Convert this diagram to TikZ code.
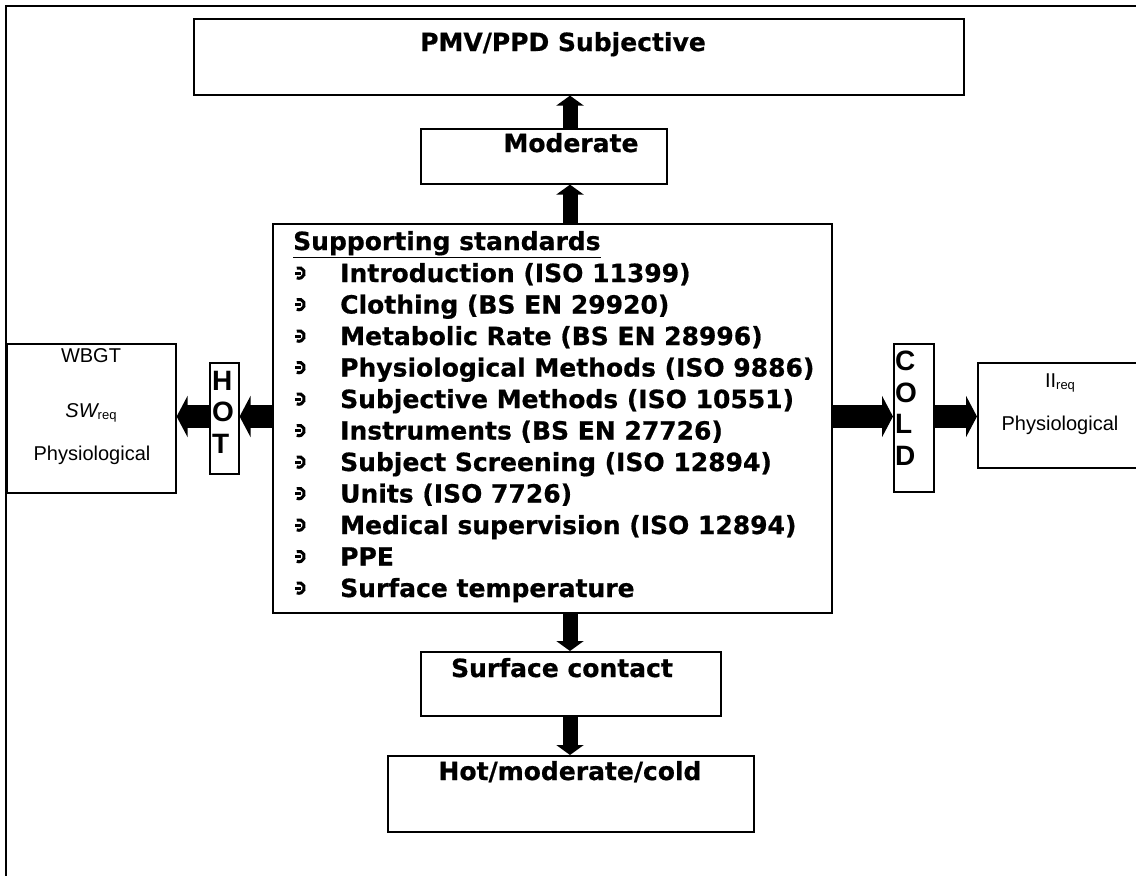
\documentclass[tikz,border=0pt]{standalone}
\usepackage{fontspec}
\setmainfont{DejaVu Sans}
\newfontfamily\heavyfont{DejaVu Sans Bold}[FakeBold=0.7]
\newfontfamily\arialfont{Liberation Sans}
\newfontfamily\arialbold{Liberation Sans Bold}
\usetikzlibrary{arrows.meta}
\begin{document}
\begin{tikzpicture}[x=1pt,y=-1pt,
  frame/.style={draw=black, line width=1.6pt, inner sep=0pt, anchor=north west},
  std/.style={font=\heavyfont\fontsize{25}{31}\selectfont, inner sep=0pt},
  sans/.style={font=\arialfont\fontsize{20}{24}\selectfont, inner sep=0pt, anchor=base},
  letter/.style={font=\arialbold\fontsize{28}{32}\selectfont, inner sep=0pt, anchor=base west},
  varrow/.style={line width=15pt, -{Triangle[width=27pt,length=10pt]}},
  harrow/.style={line width=23pt, -{Triangle[width=41pt,length=11pt]}},
  bulletmark/.pic={
    \draw[line width=3pt] (0,0) ++(-115:5.3) arc[start angle=-115,end angle=115,radius=5.3];
    \draw[line width=3pt] (-4,0) -- (2.2,0);
  }]
\useasboundingbox (0,0) rectangle (1136,876);
\clip (0,0) rectangle (1136,876);
\fill[white] (0,0) rectangle (1136,876);

% outer frame (open on the right and at the bottom)
\draw[line width=1.8pt] (6,876) -- (6,6) -- (1136,6);

% boxes
\node[frame, minimum width=770pt, minimum height=76pt] (pmv) at (193,18) {};
\node[frame, minimum width=246pt, minimum height=55pt] (mod) at (420,128) {};
\node[frame, minimum width=559pt, minimum height=389pt] (sup) at (272,223) {};
\node[frame, minimum width=300pt, minimum height=64pt] (surf) at (420,651) {};
\node[frame, minimum width=366pt, minimum height=76pt] (hmc) at (387,755) {};
\node[frame, minimum width=169pt, minimum height=149pt] (left) at (6,343) {};
\node[frame, minimum width=29pt, minimum height=111pt] (hot) at (209,362) {};
\node[frame, minimum width=40pt, minimum height=148pt] (cold) at (893,343) {};
\node[frame, minimum width=170pt, minimum height=105pt] (right) at (977,362) {};

% box texts
\node[std, anchor=base] (pmvt) at (563,51) {PMV/PPD Subjective};
\node[std, anchor=base] (modt) at (571,152) {Moderate};
\node[std, anchor=base] (surft) at (562,677) {Surface contact};
\node[std, anchor=base] (hmct) at (570,780) {Hot/moderate/cold};

\node[std, anchor=base west] (supt) at (293,250) {\underline{Supporting standards}};
\foreach \t [count=\i from 0] in {Introduction (ISO 11399),Clothing (BS EN 29920),
  Metabolic Rate (BS EN 28996),Physiological Methods (ISO 9886),
  Subjective Methods (ISO 10551),Instruments (BS EN 27726),
  Subject Screening (ISO 12894),Units (ISO 7726),
  Medical supervision (ISO 12894),PPE,Surface temperature}{
  \node[std, anchor=base west] (item\i) at (340,282+31.5*\i) {\t};
  \pic at (299,282+31.5*\i-9) {bulletmark};
}

\node[sans] (wbgt) at (91,362) {WBGT};
\node[sans] (swreq) at (91,417) {\itshape SW\upshape\raisebox{-2pt}{\fontsize{13}{13}\selectfont req}};
\node[sans] (physl) at (92,460) {Physiological};

\node[sans] (iireq) at (1060,387) {II\raisebox{-2pt}{\fontsize{13}{13}\selectfont req}};
\node[sans] (physr) at (1060,430) {Physiological};

\node[letter] (h) at (212,390) {H};
\node[letter] (o1) at (212,421.5) {O};
\node[letter] (t) at (212,453) {T};
\node[letter] (c) at (895,370.5) {C};
\node[letter] (o2) at (895,402) {O};
\node[letter] (l) at (895,433.5) {L};
\node[letter] (d) at (895,465) {D};

% connectors
\coordinate (ax) at (570,0);
\coordinate (ay) at (0,416.5);
\draw[varrow] (ax |- mod.north) -- (ax |- pmv.south);
\draw[varrow] (ax |- sup.north) -- (ax |- mod.south);
\draw[varrow] (ax |- sup.south) -- (ax |- surf.north);
\draw[varrow] (ax |- surf.south) -- (ax |- hmc.north);
\draw[harrow] (ay -| sup.west) -- (ay -| hot.east);
\draw[harrow] (ay -| hot.west) -- (ay -| left.east);
\draw[harrow] (ay -| sup.east) -- (ay -| cold.west);
\draw[harrow] (ay -| cold.east) -- (ay -| right.west);
\end{tikzpicture}
\end{document}
